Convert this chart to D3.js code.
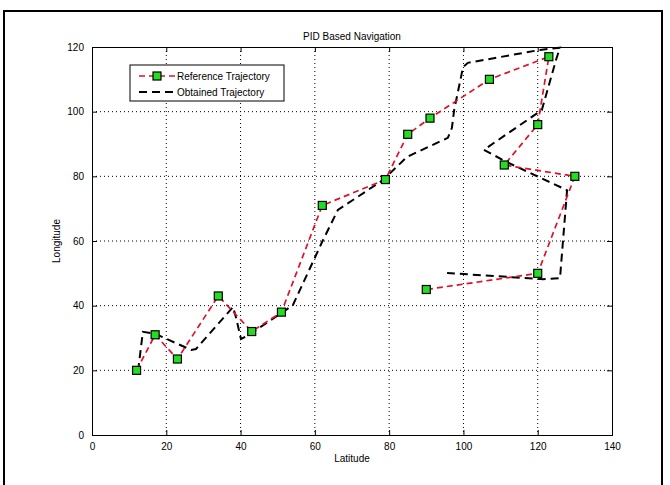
<!DOCTYPE html>
<html><head><meta charset="utf-8">
<script src="https://cdn.jsdelivr.net/npm/d3@7/dist/d3.min.js"></script>
<style>body{margin:0;background:#fff;}svg{display:block;font-family:"Liberation Sans",Arial,sans-serif;}</style>
</head><body><svg id="c" width="670" height="485"></svg>
<script>
const refX = [12, 17, 23, 34, 43, 51, 62, 79, 85, 91, 107, 123, 120, 111, 130, 120, 90];
const refY = [20, 31, 23.5, 43, 32, 38, 71, 79, 93, 98, 110, 117, 96, 83.5, 80, 50, 45];
const obtX = [12.4, 13.7, 17, 26.7, 28, 38, 38.8, 40.1, 41.7, 51.4, 54.1, 62.2, 66.2, 78.4, 84.8, 95.8, 96.9, 97.5, 99.9, 101.2, 120.6, 126, 124.9, 121.1, 105.5, 111.7, 127.9, 126, 121.4, 95.6];
const obtY = [19.8, 31.9, 31.3, 26.3, 26.6, 39.6, 36.2, 29.7, 30.6, 38, 40.2, 60.3, 69.6, 78.9, 86, 91.9, 95, 100.5, 113.8, 115.1, 119.1, 119.8, 115.9, 100.5, 88.2, 84.4, 75.7, 48.5, 48.2, 50.1];
const xTicks = [0, 20, 40, 60, 80, 100, 120, 140];
const yTicks = [0, 20, 40, 60, 80, 100, 120];
const seriesNames = ["Reference Trajectory", "Obtained Trajectory"];
const titleText = "PID Based Navigation";
const xLabel = "Latitude", yLabel = "Longitude";

const svg = d3.select("#c");
const L = 92, R = 612, T = 47, B = 435;
const x = d3.scaleLinear().domain([0, 140]).range([L, R]);
const y = d3.scaleLinear().domain([0, 120]).range([B, T]);

// outer frame
svg.append("rect").attr("x", 4).attr("y", 11).attr("width", 658).attr("height", 490)
  .attr("fill", "none").attr("stroke", "#000").attr("stroke-width", 2);

// grid
const g = svg.append("g");
g.selectAll(".gx").data(xTicks.slice(1, -1)).enter().append("line")
  .attr("x1", d => x(d)).attr("x2", d => x(d)).attr("y1", T).attr("y2", B)
  .attr("stroke", "#000").attr("stroke-width", 1).attr("stroke-dasharray", "1,3");
g.selectAll(".gy").data(yTicks.slice(1, -1)).enter().append("line")
  .attr("y1", d => y(d)).attr("y2", d => y(d)).attr("x1", L).attr("x2", R)
  .attr("stroke", "#000").attr("stroke-width", 1).attr("stroke-dasharray", "1,3");

// axes
const fs = "10px";
const ax = svg.append("g").attr("transform", `translate(0,${B})`).call(d3.axisBottom(x).tickValues(xTicks).tickSize(-5).tickPadding(8));
const ax2 = svg.append("g").attr("transform", `translate(0,${T})`).call(d3.axisTop(x).tickValues(xTicks).tickSize(-5).tickFormat(""));
const ay = svg.append("g").attr("transform", `translate(${L},0)`).call(d3.axisLeft(y).tickValues(yTicks).tickSize(-5).tickPadding(8));
const ay2 = svg.append("g").attr("transform", `translate(${R},0)`).call(d3.axisRight(y).tickValues(yTicks).tickSize(-5).tickFormat(""));
[ax, ax2, ay, ay2].forEach(a => {
  a.select(".domain").attr("stroke", "#000").attr("stroke-width", 1);
  a.selectAll("text").attr("font-size", fs).attr("fill", "#000").attr("font-family", "Liberation Sans, Arial, sans-serif");
});

// titles
svg.append("text").attr("x", (L + R) / 2).attr("y", 40).attr("text-anchor", "middle").attr("font-size", "10px").text(titleText);
svg.append("text").attr("x", (L + R) / 2).attr("y", 462).attr("text-anchor", "middle").attr("font-size", "10px").text(xLabel);
svg.append("text").attr("transform", `translate(60,${(T + B) / 2}) rotate(-90)`).attr("text-anchor", "middle").attr("font-size", "10px").text(yLabel);

// lines
const refData = refX.map((v, i) => [v, refY[i]]);
const obtData = obtX.map((v, i) => [v, obtY[i]]);
const line = d3.line().x(d => x(d[0])).y(d => y(d[1]));
svg.append("path").attr("d", line(obtData)).attr("fill", "none").attr("stroke", "#000")
  .attr("stroke-width", 2).attr("stroke-dasharray", "8,5");
svg.append("path").attr("d", line(refData)).attr("fill", "none").attr("stroke", "#e0102a")
  .attr("stroke-width", 1.7).attr("stroke-dasharray", "6,4");
svg.selectAll(".m").data(refData).enter().append("rect")
  .attr("x", d => x(d[0]) - 4).attr("y", d => y(d[1]) - 4).attr("width", 8).attr("height", 8)
  .attr("fill", "#22dd22").attr("stroke", "#000").attr("stroke-width", 1.2);

// legend
const lg = svg.append("g");
lg.append("rect").attr("x", 130).attr("y", 65).attr("width", 154).attr("height", 36)
  .attr("fill", "#fff").attr("stroke", "#000").attr("stroke-width", 1);
lg.append("line").attr("x1", 139).attr("x2", 175).attr("y1", 76).attr("y2", 76)
  .attr("stroke", "#e0102a").attr("stroke-width", 1.7).attr("stroke-dasharray", "6,4");
lg.append("rect").attr("x", 153).attr("y", 72).attr("width", 8).attr("height", 8)
  .attr("fill", "#22dd22").attr("stroke", "#000").attr("stroke-width", 1.2);
lg.append("line").attr("x1", 139).attr("x2", 175).attr("y1", 92).attr("y2", 92)
  .attr("stroke", "#000").attr("stroke-width", 2).attr("stroke-dasharray", "8,5");
lg.append("text").attr("x", 177).attr("y", 79.5).attr("font-size", "10px").text(seriesNames[0]);
lg.append("text").attr("x", 177).attr("y", 95.5).attr("font-size", "10px").text(seriesNames[1]);
</script></body></html>
